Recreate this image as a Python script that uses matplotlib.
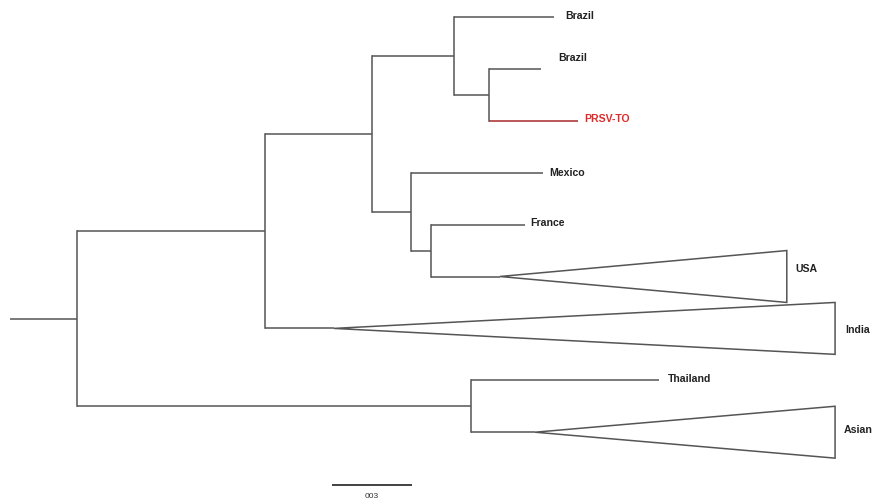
import matplotlib
matplotlib.use("Agg")
import matplotlib.pyplot as plt
from matplotlib.patches import Polygon

# ---- tree data (branch lengths in substitutions/site) ----
node_ids = ["A", "B", "C", "F", "Brazil1", "G", "Brazil2", "PRSV", "D",
            "Mexico", "E", "France", "USA", "India", "H", "Thailand", "Asian"]
node_parents = ["root", "A", "B", "C", "F", "F", "G", "G", "C",
                "D", "D", "E", "E", "B", "A", "H", "H"]
branch_lengths = [0.0251, 0.0705, 0.0401, 0.0308, 0.0375, 0.0131, 0.0195, 0.0334, 0.0146,
                  0.0495, 0.0075, 0.0353, 0.0259, 0.0259, 0.1478, 0.0705, 0.0240]
leaf_ids = ["Brazil1", "Brazil2", "PRSV", "Mexico", "France", "USA", "India", "Thailand", "Asian"]
leaf_labels = ["Brazil", "Brazil", "PRSV-TO", "Mexico", "France", "USA", "India", "Thailand", "Asian"]
clade_ids = ["USA", "India", "Asian"]
clade_depths = [0.1076, 0.1879, 0.1125]
highlight_id = "PRSV"
scale_length = 0.03
scale_label = "003"

# ---- style / layout ----
W, H, DPI = 873, 501, 100
PX_PER_UNIT = 80 / 0.03          # horizontal pixels per unit
X0_PX = 10                        # root start pixel
Y0_PX, DY_PX = 17, 51.9           # first leaf pixel, leaf spacing
LINE = "#555555"
RED_LINE = "#a82a2a"
RED_TEXT = "#e02a2a"
LW = 1.1
# label offsets in pixels (dx, dy up)
label_nudge = {"Brazil1": (11, 1), "Brazil2": (17, 11), "PRSV": (6, 2), "Mexico": (6, 0),
               "France": (5, 2), "USA": (9, 8), "India": (10, -2), "Thailand": (9, 1),
               "Asian": (9, 2)}

plt.rcParams["font.family"] = ["Liberation Sans", "DejaVu Sans"]

# ---- compute coordinates ----
bl = dict(zip(node_ids, branch_lengths))
par = dict(zip(node_ids, node_parents))
children = {}
for n, p in zip(node_ids, node_parents):
    children.setdefault(p, []).append(n)

xpos = {"root": 0.0}
for n in node_ids:  # parents listed before children
    xpos[n] = xpos[par[n]] + bl[n]

ypos = {}
for i, lf in enumerate(leaf_ids):
    ypos[lf] = float(i)

def get_y(n):
    if n in ypos:
        return ypos[n]
    ys = [get_y(c) for c in children[n]]
    ypos[n] = (min(ys) + max(ys)) / 2
    return ypos[n]

get_y("root")

fig = plt.figure(figsize=(W / DPI, H / DPI), dpi=DPI)
ax = fig.add_axes([0, 0, 1, 1])
ax.set_xlim(-X0_PX / PX_PER_UNIT, (W - X0_PX) / PX_PER_UNIT)
ax.set_ylim((H - Y0_PX) / DY_PX, -Y0_PX / DY_PX)
ax.axis("off")

# horizontal branches
for n in node_ids:
    c = RED_LINE if n == highlight_id else LINE
    ax.plot([xpos[par[n]], xpos[n]], [ypos[n], ypos[n]], color=c, lw=LW,
            solid_capstyle="butt", zorder=2)
# vertical connectors
for n, ch in children.items():
    if len(ch) > 1:
        ys = [ypos[c] for c in ch]
        ax.plot([xpos[n], xpos[n]], [min(ys), max(ys)], color=LINE, lw=LW,
                solid_capstyle="projecting", zorder=2)

# collapsed clades
clade_depth = dict(zip(clade_ids, clade_depths))
for cid, d in clade_depth.items():
    x, y = xpos[cid], ypos[cid]
    tri = Polygon([(x, y), (x + d, y - 0.5), (x + d, y + 0.5)], closed=True,
                  fill=False, edgecolor=LINE, lw=LW, joinstyle="miter", zorder=2)
    ax.add_patch(tri)

# labels
for lf, lab in zip(leaf_ids, leaf_labels):
    x = xpos[lf] + clade_depth.get(lf, 0.0)
    dx, dy = label_nudge[lf]
    col = RED_TEXT if lf == highlight_id else "#222222"
    ax.annotate(lab, (x, ypos[lf]), xytext=(dx * 0.72, dy * 0.72),
                textcoords="offset points", ha="left", va="center",
                fontsize=7.6, fontweight="bold", color=col)

# scale bar
sb_x = (332 - X0_PX) / PX_PER_UNIT
sb_y = (485 - Y0_PX) / DY_PX
ax.plot([sb_x, sb_x + scale_length], [sb_y, sb_y], color="#333333", lw=1.3,
        solid_capstyle="butt")
ax.text(sb_x + scale_length / 2, (496 - Y0_PX) / DY_PX, scale_label,
        ha="center", va="center", fontsize=6, color="#333333")

fig.savefig("out.png", dpi=DPI, facecolor="white")
